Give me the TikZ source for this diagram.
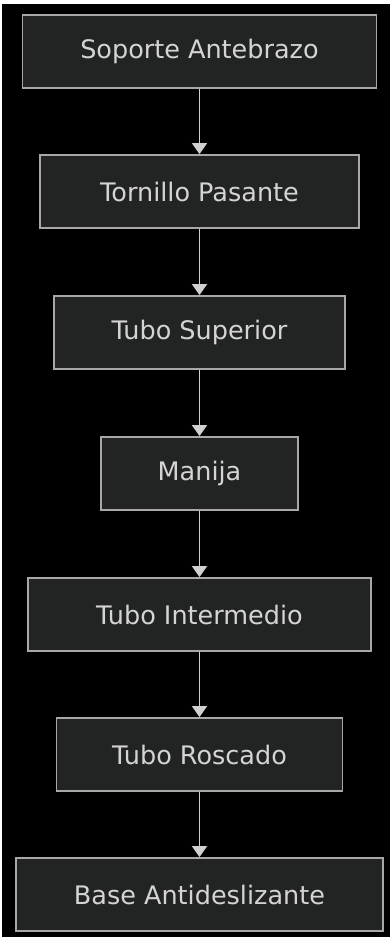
\documentclass[tikz,border=0pt]{standalone}
\usepackage{fontspec}
\setmainfont{DejaVu Sans}
\usetikzlibrary{arrows.meta}
\definecolor{boxfill}{HTML}{222323}
\definecolor{boxline}{HTML}{A8A8A8}
\definecolor{boxtext}{HTML}{D4D4D4}
\definecolor{linkline}{HTML}{D0D0D0}
\tikzset{
  part/.style={rectangle, draw=boxline, fill=boxfill, text=boxtext, line width=1.8pt,
    minimum height=73pt, inner sep=0pt, font=\fontsize{25.5}{30}\selectfont},
  link/.style={draw=linkline, line width=1.5pt, -{Triangle[width=15pt,length=11pt]}}
}
\begin{document}
\begin{tikzpicture}[x=1pt,y=-1pt]
\fill[white] (0,0) rectangle (390,937);
\fill[black] (2,4) rectangle (390,937);
\useasboundingbox (0,0) rectangle (390,937);
\node[part, minimum width=354pt] (soporte) at (199.5,51.5){Soporte Antebrazo};
\node[part, minimum width=319pt] (tornillo) at (199.5,191.5){Tornillo Pasante};
\node[part, minimum width=291pt] (superior) at (199.5,332.5){Tubo Superior};
\node[part, minimum width=197pt] (manija) at (199.5,473.5){Manija};
\node[part, minimum width=343pt] (intermedio) at (199.5,614.5){Tubo Intermedio};
\node[part, minimum width=286pt] (roscado) at (199.5,754.5){Tubo Roscado};
\node[part, minimum width=367pt] (base) at (199.5,894.5){Base Antideslizante};
\draw[link](soporte) -- (tornillo);
\draw[link](tornillo) -- (superior);
\draw[link](superior) -- (manija);
\draw[link](manija) -- (intermedio);
\draw[link](intermedio) -- (roscado);
\draw[link](roscado) -- (base);
\end{tikzpicture}
\end{document}
